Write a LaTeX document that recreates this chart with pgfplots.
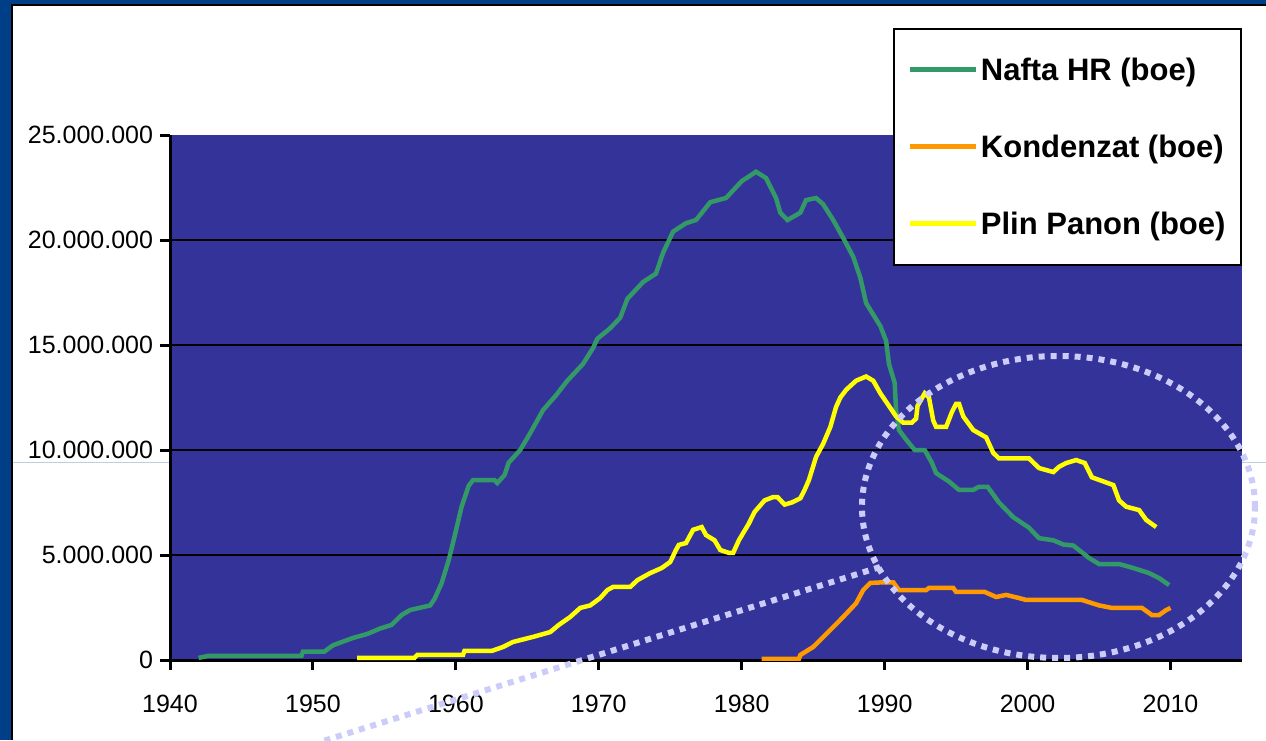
\documentclass[border=0pt]{standalone}
\usepackage{fontspec}
\setmainfont{Liberation Sans}
\usepackage{pgfplots}
\pgfplotsset{compat=1.18}
\usepackage{pgfplotstable}

\definecolor{plotbg}{RGB}{51,51,153}
\definecolor{nafta}{RGB}{51,153,102}
\definecolor{kond}{RGB}{255,153,0}
\definecolor{plin}{RGB}{255,255,0}
\definecolor{slideblue}{RGB}{0,62,136}
\definecolor{dots}{RGB}{204,204,250}
\definecolor{faint}{RGB}{190,205,230}

% year, boe
\pgfplotstableread{
year val
1942.0 100000
1942.7 200000
1949.2 200000
1949.3 400000
1950.8 400000
1951.4 700000
1952.8 1050000
1953.8 1240000
1954.7 1500000
1955.5 1670000
1956.2 2140000
1956.8 2380000
1958.2 2600000
1958.5 2900000
1959.0 3650000
1959.5 4760000
1959.9 5860000
1960.4 7300000
1960.9 8300000
1961.2 8570000
1962.7 8570000
1962.9 8430000
1963.4 8800000
1963.7 9400000
1964.5 10000000
1965.2 10800000
1966.1 11900000
1967.0 12600000
1967.8 13300000
1968.9 14100000
1969.6 14860000
1969.9 15300000
1970.8 15800000
1971.5 16300000
1972.0 17200000
1973.1 18000000
1974.0 18400000
1974.5 19400000
1975.2 20400000
1976.1 20800000
1976.8 20950000
1977.8 21800000
1978.9 22000000
1980.0 22800000
1981.0 23250000
1981.7 22950000
1982.4 22000000
1982.7 21300000
1983.2 20950000
1984.1 21300000
1984.5 21900000
1985.2 22000000
1985.7 21700000
1986.4 20950000
1987.1 20100000
1987.8 19200000
1988.3 18200000
1988.7 17000000
1989.7 15900000
1990.1 15200000
1990.3 14100000
1990.7 13200000
1990.8 11900000
1991.0 10950000
1991.5 10500000
1992.1 10000000
1992.8 10000000
1993.3 9400000
1993.6 8900000
1994.5 8500000
1995.2 8100000
1996.2 8100000
1996.6 8250000
1997.2 8250000
1998.0 7500000
1999.0 6800000
2000.1 6300000
2000.8 5800000
2001.8 5700000
2002.5 5500000
2003.2 5450000
2004.3 4860000
2005.0 4570000
2006.4 4570000
2007.3 4400000
2008.5 4140000
2009.2 3900000
2009.9 3570000
}\nafta

\pgfplotstableread{
year val
1981.4 50000
1984.0 50000
1984.1 240000
1985.0 620000
1986.4 1570000
1987.1 2050000
1988.0 2700000
1988.5 3330000
1989.0 3670000
1989.9 3700000
1990.6 3700000
1991.0 3330000
1992.9 3330000
1993.1 3430000
1994.8 3430000
1995.0 3240000
1997.0 3240000
1997.8 3000000
1998.5 3100000
1999.4 2950000
1999.9 2860000
2003.8 2860000
2005.0 2600000
2005.9 2480000
2008.0 2480000
2008.7 2140000
2009.2 2140000
2009.7 2380000
2010.0 2480000
}\kondenzat

\pgfplotstableread{
year val
1953.1 100000
1957.1 100000
1957.3 240000
1960.5 240000
1960.6 430000
1962.5 430000
1963.3 620000
1964.0 860000
1965.4 1100000
1966.6 1330000
1967.2 1670000
1968.0 2050000
1968.7 2480000
1969.4 2600000
1970.1 2950000
1970.6 3330000
1971.0 3480000
1972.2 3480000
1972.7 3800000
1973.6 4140000
1974.4 4380000
1975.0 4670000
1975.4 5240000
1975.6 5480000
1976.1 5570000
1976.6 6200000
1977.2 6330000
1977.5 5950000
1978.1 5700000
1978.5 5240000
1979.1 5100000
1979.4 5100000
1979.8 5700000
1980.5 6500000
1980.9 7050000
1981.6 7600000
1982.2 7760000
1982.5 7760000
1983.0 7400000
1983.5 7500000
1984.1 7700000
1984.4 8100000
1984.7 8570000
1985.2 9670000
1985.7 10300000
1986.2 11100000
1986.6 12050000
1986.9 12500000
1987.3 12860000
1988.0 13300000
1988.7 13500000
1989.2 13300000
1989.7 12700000
1990.1 12300000
1990.8 11600000
1991.3 11300000
1991.9 11300000
1992.2 11500000
1992.3 12100000
1992.8 12700000
1993.1 12500000
1993.4 11400000
1993.6 11100000
1994.3 11100000
1994.7 11800000
1995.0 12200000
1995.2 12200000
1995.5 11600000
1996.2 10950000
1997.1 10600000
1997.6 9860000
1998.0 9600000
2000.1 9600000
2000.8 9140000
2001.8 8950000
2002.2 9200000
2002.7 9380000
2003.4 9520000
2004.0 9380000
2004.5 8700000
2006.0 8330000
2006.4 7600000
2006.9 7300000
2007.8 7140000
2008.3 6670000
2009.0 6330000
}\plin

\begin{document}
\begin{tikzpicture}[x=1pt,y=1pt]
\useasboundingbox (0,0) rectangle (1266,740);
\clip (0,0) rectangle (1266,740);
\fill[white] (0,0) rectangle (1266,740);
\fill[slideblue] (0,0) rectangle (11,740);
\fill[slideblue] (0,736) rectangle (1266,740);
\draw[black, line width=2.5pt] (12.2,0) -- (12.2,735) -- (1266,735);
\draw[faint, line width=1pt] (13,278) -- (1266,278);

\begin{axis}[
    at={(170pt,80pt)}, anchor=south west,
    scale only axis, width=1072pt, height=525pt,
    xmin=1940, xmax=2015, ymin=0, ymax=25000000,
    scaled y ticks=false,
    axis background/.style={fill=plotbg},
    axis x line*=bottom, axis y line*=left,
    axis line style={black, line width=3pt, -},
    xtick={1940,1950,...,2010},
    xticklabels={1940,1950,1960,1970,1980,1990,2000,2010},
    ytick={0,5000000,10000000,15000000,20000000},
    yticklabels={0,5.000.000,10.000.000,15.000.000,20.000.000},
    extra y ticks={25000000},
    extra y tick labels={25.000.000},
    extra y tick style={grid=none},
    ymajorgrids,
    major grid style={black, line width=2pt},
    tick align=outside,
    major tick length=10pt,
    tick style={black, line width=3pt},
    ticklabel style={font=\fontsize{25}{28}\selectfont},
    xticklabel style={yshift=-22pt},
    yticklabel style={xshift=-3.5pt},
    legend style={at={(1,1.2038)}, anchor=north east, draw=black,
        line width=2pt, fill=white,
        font=\bfseries\fontsize{31}{36}\selectfont,
        inner xsep=13.5pt, inner ysep=27pt, row sep=49pt},
    legend cell align=left,
    legend image code/.code={\draw[line width=5pt] (0pt,0pt) -- (66pt,0pt);},
]
\addplot[nafta, line width=4.5pt, no markers] table[x=year, y=val] {\nafta};
\addlegendentry{Nafta HR (boe)}
\addplot[kond, line width=4.5pt, no markers] table[x=year, y=val] {\kondenzat};
\addlegendentry{Kondenzat (boe)}
\addplot[plin, line width=4.5pt, no markers] table[x=year, y=val] {\plin};
\addlegendentry{Plin Panon (boe)}
\end{axis}

\draw[dots, line width=6pt, dash pattern=on 6pt off 6pt]
    (1058.5,233) ellipse [x radius=196.5, y radius=151];
\draw[dots, line width=6pt, dash pattern=on 6pt off 6pt]
    (880,173) -- (320,-2);
\end{tikzpicture}
\end{document}
